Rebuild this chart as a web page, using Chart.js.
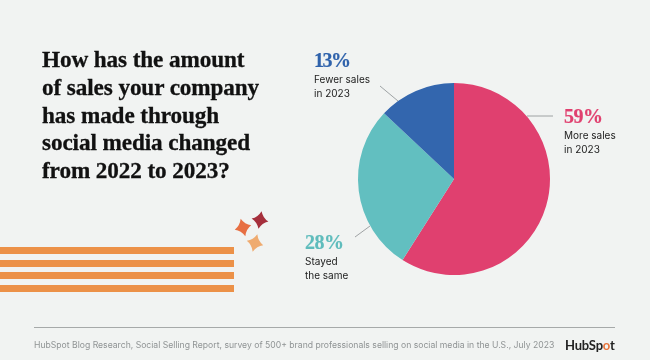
<!DOCTYPE html>
<html>
<head>
<meta charset="utf-8">
<script src="https://cdn.jsdelivr.net/npm/chart.js@4"></script>
<style>
  html, body { margin: 0; padding: 0; background: #f1f3f2; }
  #stage { position: relative; width: 650px; height: 360px; overflow: hidden; background: #f1f3f2; }
  #stage canvas { position: absolute; left: 0; top: 0; }
  .t { position: absolute; white-space: nowrap; }
  #title { left: 42px; top: 46px; font: 700 23.2px/27.8px "Liberation Serif", serif; letter-spacing: -0.1px; color: #111; -webkit-text-stroke: 0.3px #111; }
  .pct { font: 700 20px/22px "Liberation Serif", serif; letter-spacing: -0.5px; -webkit-text-stroke: 0.2px currentColor; }
  .lbl { font: 400 10px/13.6px Inter, sans-serif; color: #222; }
  #src { left: 34px; top: 339px; font: 400 8.63px/12px Inter, sans-serif; color: #8f9394; }
  #logo { left: 565px; top: 337px; font: 700 13px/16px Lato, sans-serif; color: #222; letter-spacing: -0.2px; }
  #logo span { color: #e8743b; }
  .stripe { position: absolute; left: 0; width: 234px; height: 7.3px; background: #ec9148; }
  #rule { position: absolute; left: 34px; top: 327px; width: 581px; height: 1px; background: #a6a9a9; }
</style>
</head>
<body>
<div id="stage">
  <canvas id="pie" width="650" height="360"></canvas>
  <div class="t" id="title">How has the amount<br>of sales your company<br>has made through<br>social media changed<br>from 2022 to 2023?</div>

  <div class="stripe" style="top:247px"></div>
  <div class="stripe" style="top:259.7px"></div>
  <div class="stripe" style="top:272.2px"></div>
  <div class="stripe" style="top:284.7px"></div>

  <svg style="position:absolute;left:230px;top:205px" width="45" height="50" viewBox="0 0 45 50">
    <path transform="translate(30 15) rotate(10)" d="M0 -9 Q2.5 -2.5 8.5 0 Q2.5 2.5 0 9 Q-2.5 2.5 -8.5 0 Q-2.5 -2.5 0 -9Z" fill="#a52f3c"/>
    <path transform="translate(13 22.5) rotate(-15)" d="M0 -9 Q2.5 -2.5 8.5 0 Q2.5 2.5 0 9 Q-2.5 2.5 -8.5 0 Q-2.5 -2.5 0 -9Z" fill="#e76f43"/>
    <path transform="translate(25 38) rotate(15)" d="M0 -9 Q2.5 -2.5 8.5 0 Q2.5 2.5 0 9 Q-2.5 2.5 -8.5 0 Q-2.5 -2.5 0 -9Z" fill="#efab70"/>
  </svg>

  <div class="t pct" style="left:314px;top:49px;color:#2f62ab;letter-spacing:-1.5px">13%</div>
  <div class="t lbl" style="left:314px;top:73px">Fewer sales<br>in 2023</div>
  <div class="t pct" style="left:564px;top:105px;color:#e0406f">59%</div>
  <div class="t lbl" style="left:564px;top:129px">More sales<br>in 2023</div>
  <div class="t pct" style="left:305px;top:231px;color:#5fbcbc">28%</div>
  <div class="t lbl" style="left:305px;top:255px">Stayed<br>the same</div>

  <div id="rule"></div>
  <div class="t" id="src">HubSpot Blog Research, Social Selling Report, survey of 500+ brand professionals selling on social media in the U.S., July 2023</div>
  <div class="t" id="logo">HubSp<span>o</span>t</div>
</div>
<script>
// values
const categories = ['More sales in 2023', 'Stayed the same', 'Fewer sales in 2023'];
const shares = [59, 28, 13];
const sliceColors = ['#e0406f', '#62bfc0', '#3366ae'];

// short grey lines from the text labels to the slices
const leaderLines = {
    id: 'leaderLines',
    afterDraw(chart) {
        const ctx = chart.ctx;
        ctx.save();
        ctx.strokeStyle = '#8a8e90';
        ctx.lineWidth = 0.8;
        [[380, 86, 398, 101], [527, 116, 553, 116], [355, 237, 370, 226]].forEach(l => {
            ctx.beginPath();
            ctx.moveTo(l[0], l[1]);
            ctx.lineTo(l[2], l[3]);
            ctx.stroke();
        });
        ctx.restore();
    }
};

new Chart(document.getElementById('pie'), {
    type: 'pie',
    data: {
        labels: categories,
        datasets: [{ data: shares, backgroundColor: sliceColors, borderWidth: 0 }]
    },
    options: {
        responsive: false,
        animation: false,
        // leaves a 192px square centred at (454,179)
        layout: { padding: { left: 358, right: 100, top: 83, bottom: 85 } },
        plugins: { legend: { display: false }, tooltip: { enabled: false } }
    },
    plugins: [leaderLines]
});
</script>
</body>
</html>
